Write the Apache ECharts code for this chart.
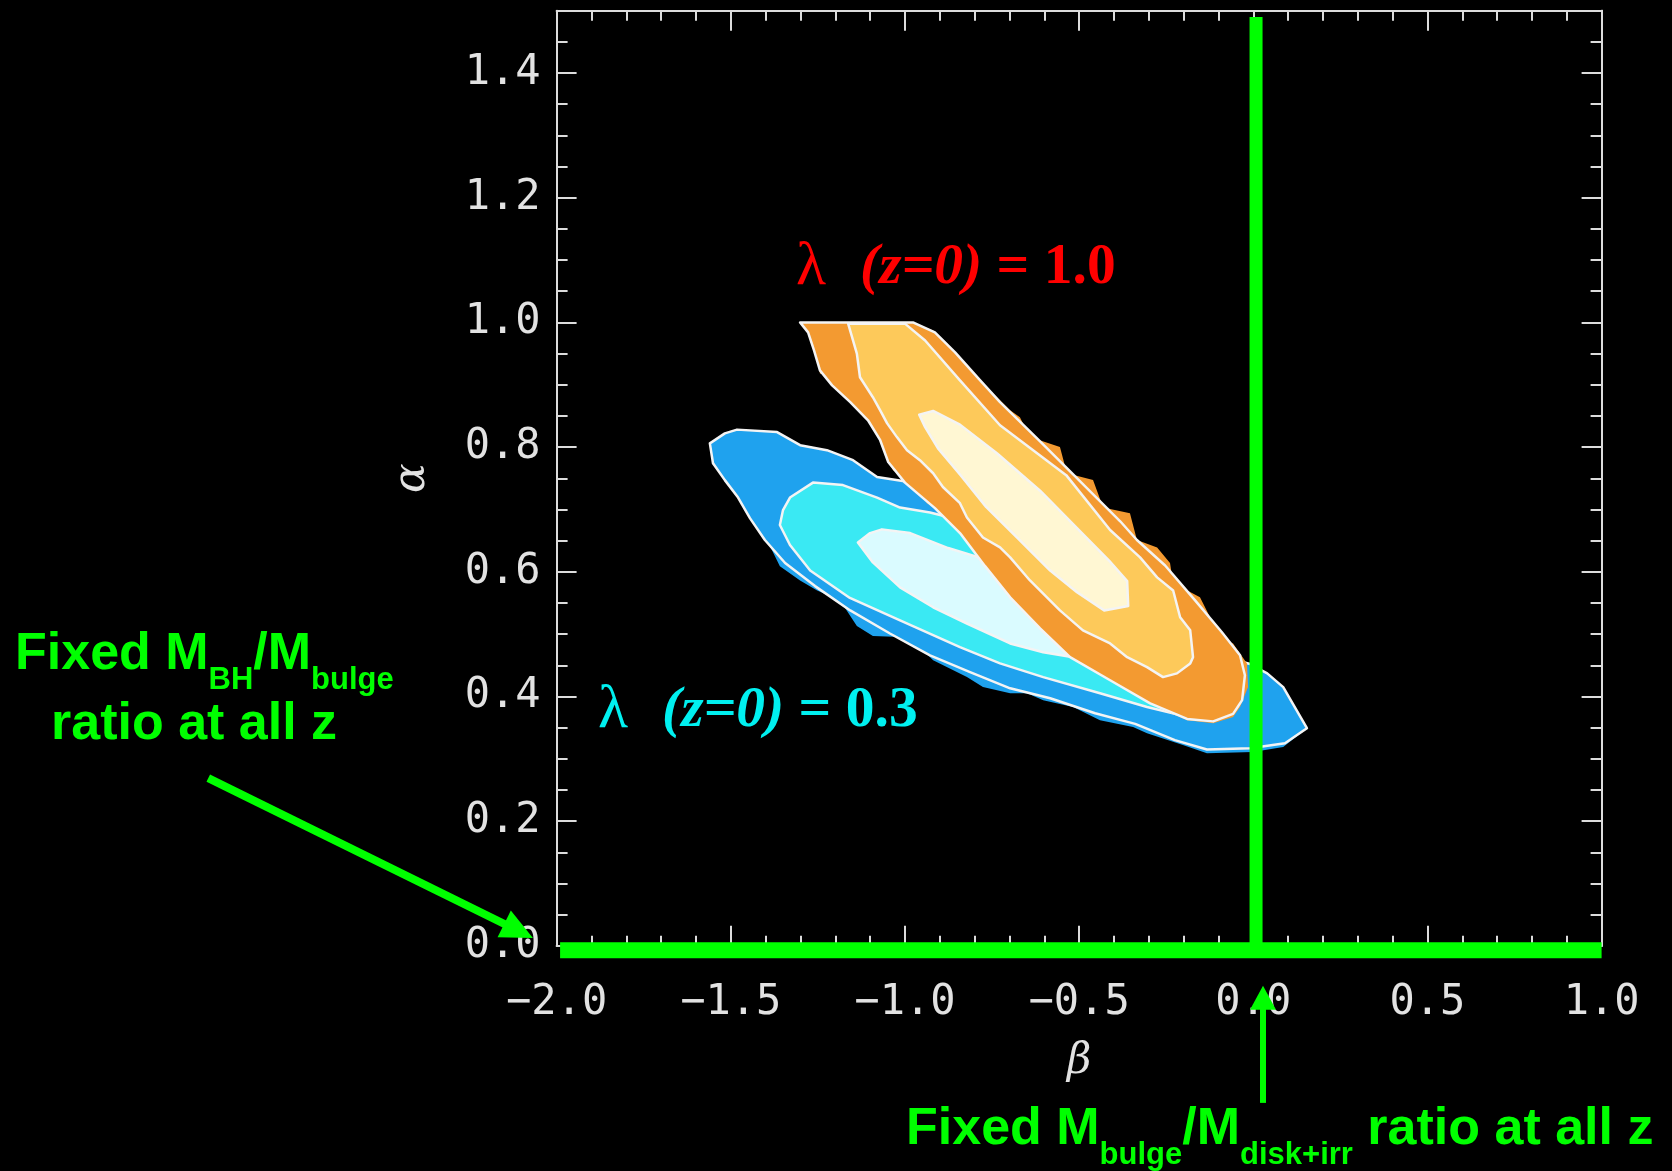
<!DOCTYPE html>
<html>
<head>
<meta charset="utf-8">
<title>alpha - beta likelihood contours</title>
<script src="https://cdn.jsdelivr.net/npm/echarts@6/dist/echarts.min.js"></script>
<style>
html, body { margin: 0; padding: 0; background: #000; }
#chart { width: 1672px; height: 1171px; }
</style>
</head>
<body>
<div id="chart"></div>
<script>
// axis ranges (beta on x, alpha on y)
const betaRange = [-2, 1]
const alphaRange = [0, 1.5]

// lambda(z=0) = 0.3 contours, [beta, alpha], outer -> inner
// raw = blocky filled grid cells, the others are the smoothed outlines
const blueOuterRaw = [[-1.560, 0.806], [-1.517, 0.822], [-1.482, 0.828], [-1.367, 0.824], [-1.301, 0.803], [-1.224, 0.795], [-1.149, 0.779], [-1.080, 0.752], [-0.965, 0.742], [-0.784, 0.683], [-0.497, 0.570], [-0.210, 0.482], [-0.009, 0.452], [0.040, 0.437], [0.086, 0.415], [0.154, 0.349], [0.086, 0.319], [-0.001, 0.311], [-0.133, 0.309], [-0.202, 0.322], [-0.305, 0.341], [-0.345, 0.351], [-0.440, 0.362], [-0.517, 0.383], [-0.603, 0.394], [-0.649, 0.405], [-0.698, 0.405], [-0.776, 0.415], [-0.822, 0.431], [-0.919, 0.458], [-0.957, 0.479], [-0.994, 0.495], [-1.092, 0.497], [-1.138, 0.513], [-1.186, 0.554], [-1.252, 0.570], [-1.301, 0.586], [-1.359, 0.609], [-1.396, 0.651], [-1.436, 0.678], [-1.473, 0.715], [-1.511, 0.742], [-1.551, 0.774]]
const blueOuter = [[-1.560, 0.806], [-1.517, 0.822], [-1.482, 0.828], [-1.367, 0.824], [-1.301, 0.803], [-1.224, 0.795], [-1.149, 0.779], [-1.080, 0.752], [-0.965, 0.742], [-0.784, 0.683], [-0.497, 0.570], [-0.210, 0.482], [-0.009, 0.452], [0.040, 0.437], [0.086, 0.415], [0.154, 0.349], [0.091, 0.325], [-0.009, 0.317], [-0.133, 0.315], [-0.225, 0.330], [-0.339, 0.356], [-0.454, 0.373], [-0.583, 0.397], [-0.698, 0.413], [-0.813, 0.439], [-0.928, 0.466], [-1.043, 0.501], [-1.157, 0.538], [-1.258, 0.577], [-1.344, 0.614], [-1.402, 0.651], [-1.445, 0.686], [-1.479, 0.719], [-1.517, 0.747], [-1.551, 0.774]]
const blueMid = [[-1.350, 0.699], [-1.330, 0.719], [-1.264, 0.743], [-1.178, 0.739], [-1.080, 0.719], [-1.014, 0.703], [-0.928, 0.695], [-0.842, 0.683], [-0.727, 0.626], [-0.555, 0.554], [-0.296, 0.474], [-0.124, 0.410], [-0.133, 0.362], [-0.210, 0.370], [-0.305, 0.383], [-0.440, 0.405], [-0.603, 0.431], [-0.727, 0.453], [-0.842, 0.479], [-1.014, 0.522], [-1.158, 0.558], [-1.272, 0.602], [-1.330, 0.643], [-1.359, 0.675]]
const blueInner = [[-1.135, 0.647], [-1.100, 0.662], [-1.066, 0.668], [-0.985, 0.662], [-0.876, 0.638], [-0.799, 0.625], [-0.698, 0.602], [-0.603, 0.554], [-0.497, 0.506], [-0.417, 0.458], [-0.440, 0.453], [-0.517, 0.463], [-0.603, 0.471], [-0.698, 0.485], [-0.822, 0.517], [-0.919, 0.543], [-1.014, 0.575], [-1.092, 0.615]]

// lambda(z=0) = 1.0 contours
const orangeOuterRaw = [[-1.301, 1.000], [-0.977, 1.000], [-0.919, 0.987], [-0.879, 0.966], [-0.862, 0.950], [-0.793, 0.912], [-0.756, 0.891], [-0.698, 0.859], [-0.670, 0.848], [-0.641, 0.816], [-0.555, 0.800], [-0.535, 0.758], [-0.460, 0.747], [-0.431, 0.703], [-0.354, 0.694], [-0.334, 0.651], [-0.276, 0.639], [-0.239, 0.614], [-0.230, 0.582], [-0.153, 0.559], [-0.124, 0.527], [-0.115, 0.501], [-0.058, 0.485], [-0.018, 0.453], [-0.015, 0.415], [-0.038, 0.383], [-0.058, 0.367], [-0.115, 0.357], [-0.190, 0.362], [-0.276, 0.383], [-0.362, 0.410], [-0.411, 0.431], [-0.489, 0.453], [-0.535, 0.469], [-0.603, 0.506], [-0.632, 0.533], [-0.690, 0.566], [-0.727, 0.594], [-0.776, 0.634], [-0.822, 0.658], [-0.850, 0.678], [-0.899, 0.699], [-0.937, 0.710], [-0.965, 0.742], [-1.034, 0.763], [-1.051, 0.784], [-1.071, 0.816], [-1.092, 0.843], [-1.149, 0.870], [-1.166, 0.896], [-1.206, 0.912], [-1.244, 0.918], [-1.252, 0.950], [-1.273, 0.987]]
const orangeOuter = [[-1.301, 1.000], [-0.977, 1.000], [-0.914, 0.984], [-0.856, 0.952], [-0.784, 0.907], [-0.727, 0.872], [-0.612, 0.809], [-0.497, 0.745], [-0.382, 0.681], [-0.334, 0.651], [-0.253, 0.610], [-0.167, 0.554], [-0.090, 0.503], [-0.038, 0.466], [-0.024, 0.434], [-0.032, 0.394], [-0.058, 0.372], [-0.115, 0.360], [-0.190, 0.364], [-0.296, 0.389], [-0.411, 0.426], [-0.526, 0.463], [-0.612, 0.509], [-0.698, 0.559], [-0.770, 0.609], [-0.842, 0.662], [-0.914, 0.702], [-1.000, 0.743], [-1.048, 0.776], [-1.071, 0.811], [-1.106, 0.843], [-1.157, 0.872], [-1.209, 0.899], [-1.244, 0.923], [-1.261, 0.955], [-1.278, 0.984]]
const orangeMid = [[-1.163, 0.998], [-1.000, 0.998], [-0.942, 0.971], [-0.842, 0.907], [-0.727, 0.835], [-0.537, 0.755], [-0.411, 0.667], [-0.325, 0.623], [-0.276, 0.591], [-0.230, 0.570], [-0.210, 0.527], [-0.181, 0.506], [-0.173, 0.463], [-0.181, 0.453], [-0.219, 0.437], [-0.259, 0.431], [-0.305, 0.447], [-0.362, 0.463], [-0.411, 0.485], [-0.489, 0.506], [-0.555, 0.538], [-0.641, 0.586], [-0.698, 0.623], [-0.727, 0.639], [-0.776, 0.655], [-0.822, 0.687], [-0.842, 0.710], [-0.891, 0.736], [-0.919, 0.758], [-0.957, 0.779], [-0.994, 0.795], [-1.023, 0.816], [-1.051, 0.838], [-1.071, 0.859], [-1.092, 0.880], [-1.129, 0.912], [-1.138, 0.950]]
const orangeInner = [[-0.959, 0.852], [-0.919, 0.858], [-0.842, 0.836], [-0.736, 0.790], [-0.612, 0.730], [-0.506, 0.670], [-0.414, 0.618], [-0.362, 0.585], [-0.359, 0.545], [-0.428, 0.538], [-0.506, 0.567], [-0.583, 0.602], [-0.675, 0.653], [-0.767, 0.704], [-0.842, 0.756], [-0.905, 0.798], [-0.942, 0.832]]

// green annotation guides, [beta, alpha] end points (tail, head)
const fixedBulgeDiskLine = [[0.008, 1.49], [0.008, -0.012]]
const fixedBHLine = [[-1.99, -0.007], [1.0, -0.007]]
const arrowBH = [[-3.0, 0.269], [-2.068, 0.0125]]
const arrowBulgeDisk = [[0.028, -0.252], [0.028, -0.064]]

const frameColor = '#dcdcdc'
const green = '#00ff00'

function contour(points, color, outlined) {
	return {
		type: 'custom',
		xAxisIndex: 0,
		yAxisIndex: 0,
		silent: true,
		data: [points[0]],
		renderItem: function (params, api) {
			return {
				type: 'polygon',
				shape: { points: points.map(p => api.coord(p)) },
				style: outlined
					? { fill: color, stroke: '#f4f4f4', lineWidth: 2.5, lineJoin: 'round' }
					: { fill: color }
			}
		}
	}
}

//green line, with an arrow head when headLen > 0
function guide(points, width, headLen, headWidth) {
	return {
		type: 'custom',
		xAxisIndex: 0,
		yAxisIndex: 0,
		silent: true,
		clip: false,
		z: 5,
		data: [points[0]],
		renderItem: function (params, api) {
			const a = api.coord(points[0])
			const b = api.coord(points[1])
			const children = []
			if (headLen > 0) {
				const len = Math.hypot(b[0] - a[0], b[1] - a[1])
				const ux = (b[0] - a[0]) / len, uy = (b[1] - a[1]) / len
				const bx = b[0] - ux * headLen, by = b[1] - uy * headLen
				children.push({
					type: 'line',
					shape: { x1: a[0], y1: a[1], x2: bx + ux * 2, y2: by + uy * 2 },
					style: { stroke: green, lineWidth: width }
				})
				children.push({
					type: 'polygon',
					shape: { points: [b, [bx - uy * headWidth / 2, by + ux * headWidth / 2], [bx + uy * headWidth / 2, by - ux * headWidth / 2]] },
					style: { fill: green }
				})
			} else {
				children.push({
					type: 'line',
					shape: { x1: a[0], y1: a[1], x2: b[0], y2: b[1] },
					style: { stroke: green, lineWidth: width }
				})
			}
			return { type: 'group', children: children }
		}
	}
}

function betaAxis(pos) {
	const bottom = pos === 'bottom'
	return {
		type: 'value',
		position: pos,
		min: betaRange[0],
		max: betaRange[1],
		interval: 0.5,
		axisLine: { show: true, onZero: false, lineStyle: { color: frameColor, width: 2 } },
		axisTick: { show: true, inside: true, length: 20, lineStyle: { color: frameColor, width: 2 } },
		minorTick: { show: true, splitNumber: 5, length: 10, lineStyle: { color: frameColor, width: 2 } },
		splitLine: { show: false },
		minorSplitLine: { show: false },
		axisLabel: {
			show: bottom,
			margin: 36,
			color: '#e2e2e2',
			fontFamily: 'DejaVu Sans Mono',
			fontSize: 42,
			formatter: v => (v < 0 ? '\u2212' : '') + Math.abs(v).toFixed(1)
		},
		name: bottom ? 'β' : '',
		nameLocation: 'middle',
		nameGap: 95,
		nameTextStyle: { color: '#e2e2e2', fontFamily: 'DejaVu Serif', fontStyle: 'italic', fontSize: 42 }
	}
}

function alphaAxis(pos, step, tickLen, withLabels) {
	return {
		type: 'value',
		position: pos,
		min: alphaRange[0],
		max: alphaRange[1],
		interval: step,
		axisLine: { show: withLabels || pos === 'right', onZero: false, lineStyle: { color: frameColor, width: 2 } },
		axisTick: { show: true, inside: true, length: tickLen, lineStyle: { color: frameColor, width: 2 } },
		splitLine: { show: false },
		axisLabel: {
			show: withLabels,
			margin: 16,
			color: '#e2e2e2',
			fontFamily: 'DejaVu Sans Mono',
			fontSize: 42,
			formatter: v => (v > 1.45 ? '' : v.toFixed(1))
		},
		name: withLabels ? 'α' : '',
		nameLocation: 'middle',
		nameGap: 122,
		nameRotate: 90,
		nameTextStyle: { color: '#e2e2e2', fontFamily: 'DejaVu Serif', fontStyle: 'italic', fontSize: 44 }
	}
}

const greenMain = { fill: green, fontFamily: 'Liberation Sans', fontWeight: 'bold', fontSize: 52, lineHeight: 60 }
const greenSub = { fill: green, fontFamily: 'Liberation Sans', fontWeight: 'bold', fontSize: 31, lineHeight: 30, padding: [50, 0, 0, 0] }

function lambdaLabel(x, y, color, value) {
	return {
		type: 'text',
		x: x,
		y: y,
		silent: true,
		style: {
			text: '{l|λ}{i|(z=0)}{b| = ' + value + '}',
			verticalAlign: 'top',
			rich: {
				l: { fill: color, fontFamily: 'Liberation Serif', fontSize: 62, lineHeight: 58, padding: [0, 34, 0, 0] },
				i: { fill: color, fontFamily: 'Liberation Serif', fontStyle: 'italic', fontWeight: 'bold', fontSize: 57.5, lineHeight: 58 },
				b: { fill: color, fontFamily: 'Liberation Serif', fontWeight: 'bold', fontSize: 57.5, lineHeight: 58 }
			}
		}
	}
}

const chart = echarts.init(document.getElementById('chart'), null, { renderer: 'canvas' })

const option = {
	backgroundColor: '#000',
	animation: false,
	grid: { left: 556.6, right: 70.4, top: 10.7, bottom: 225.2, containLabel: false, outerBoundsMode: 'none' },
	xAxis: [betaAxis('bottom'), betaAxis('top')],
	yAxis: [
		alphaAxis('left', 0.2, 20, true),
		alphaAxis('left', 0.05, 11, false),
		alphaAxis('right', 0.2, 20, false),
		alphaAxis('right', 0.05, 11, false)
	],
	series: [
		contour(blueOuterRaw, '#1fa2ee', false),
		contour(blueOuter, '#1fa2ee', true),
		contour(blueMid, '#3ae9f3', true),
		contour(blueInner, '#dafbff', true),
		contour(orangeOuterRaw, '#f39a31', false),
		contour(orangeOuter, '#f39a31', true),
		contour(orangeMid, '#fdc95a', true),
		contour(orangeInner, '#fff7d3', true),
		guide(fixedBHLine, 16, 0, 0),
		guide(fixedBulgeDiskLine, 13, 0, 0),
		guide(arrowBH, 8, 32, 30),
		guide(arrowBulgeDisk, 6, 24, 26)
	],
	graphic: [
		lambdaLabel(796, 239, '#ff0000', '1.0'),
		lambdaLabel(598, 682, '#00f0f0', '0.3'),
		{
			type: 'text', x: 15, y: 625, silent: true,
			style: { text: '{m|Fixed M}{s|BH}{m|/M}{s|bulge}', verticalAlign: 'top', rich: { m: greenMain, s: greenSub } }
		},
		{
			type: 'text', x: 51, y: 695, silent: true,
			style: { text: '{m|ratio at all z}', verticalAlign: 'top', rich: { m: greenMain } }
		},
		{
			type: 'text', x: 906, y: 1100, silent: true,
			style: { text: '{m|Fixed M}{s|bulge}{m|/M}{s|disk+irr}{m| ratio at all z}', verticalAlign: 'top', rich: { m: greenMain, s: greenSub } }
		}
	]
}

chart.setOption(option)
</script>
</body>
</html>
